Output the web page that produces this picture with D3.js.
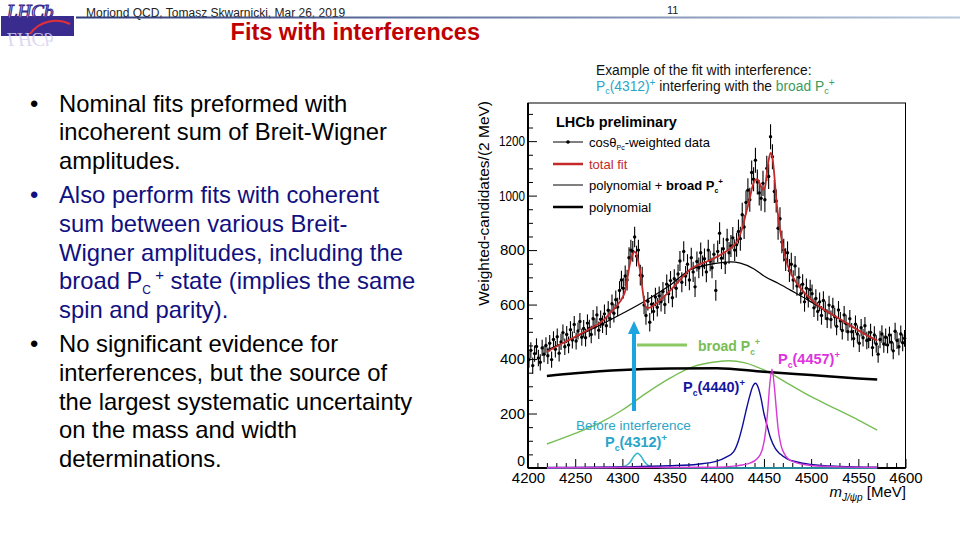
<!DOCTYPE html>
<html><head><meta charset="utf-8">
<script src="https://cdn.jsdelivr.net/npm/d3@7"></script>
<style>
html,body{margin:0;padding:0;background:#fff;}
svg{display:block;font-family:"Liberation Sans",Arial,Helvetica,sans-serif;}
</style></head><body>
<svg id="c" width="960" height="540"></svg>
<script>
// ---------------- data ----------------
const xTicks = [4200,4250,4300,4350,4400,4450,4500,4550,4600];
const yTicks = [0,200,400,600,800,1000,1200];
const dataMass = d3.range(4201, 4600, 2);
const dataCounts = [
 398,432,376,420,446,404,388,441,418,450,
 412,458,398,472,436,482,421,463,497,445,
 490,452,508,470,527,466,503,538,480,512,
 478,532,512,490,548,518,562,506,546,528,
 566,522,579,548,603,568,618,591,652,690,
 660,705,690,772,800,795,848,778,800,708,
 705,598,560,612,535,601,575,628,590,632,
 610,648,600,675,640,688,625,695,660,712,
 760,682,795,705,748,690,772,720,665,758,
 735,790,742,768,720,800,760,735,785,652,
 795,862,770,805,752,838,790,815,845,800,
 820,868,842,930,885,975,1020,985,1085,1060,
 1130,1050,1010,990,1045,985,1100,1070,1216,1143,
 1015,980,880,915,830,800,765,790,725,748,
 690,742,668,700,640,675,610,660,625,655,
 640,588,622,575,610,560,615,578,548,598,
 545,592,555,520,580,540,505,562,530,500,
 548,500,475,528,492,458,515,478,522,468,
 472,498,442,488,455,418,472,492,455,480,
 452,488,462,430,502,468,445,492,460,476
];
const dataErrByGroup = [30,30,31,32,34,38,34,35,37,38,40,44,46,42,36,34,33,32,32,31];

const fitMass   = [4220,4235,4250,4265,4280,4290,4296,4300,4303,4306,4309,4311,4313,4315,4317,4319,4321,4323,4326,4330,4336,4345,4355,4365,4372,4385,4395,4405,4415,4422,4427,4431,4435,4438,4441,4443,4446,4449,4451,4453,4455,4457,4459,4461,4463,4466,4470,4475,4480,4490,4500,4510,4525,4540,4555,4570];
const fitValues = [427,455,482,510,543,580,604,625,650,710,765,785,794,785,755,720,665,615,588,590,605,632,668,705,730,752,766,785,808,835,880,935,990,1035,1058,1060,1040,1022,1030,1080,1130,1157,1140,1075,990,900,815,745,705,655,618,590,558,527,495,468];

const polyBroadMass   = [4220,4250,4275,4300,4325,4350,4372,4390,4405,4415,4425,4440,4450,4465,4478,4495,4510,4530,4550,4570];
const polyBroadValues = [433,480,522,567,615,670,728,746,754,757,752,730,705,678,653,620,588,547,506,468];

const polyMass   = [4220,4250,4300,4350,4400,4450,4500,4550,4570];
const polyValues = [338,348,360,365,366,353,341,329,325];

const broadMass   = [4220,4250,4275,4300,4325,4350,4375,4400,4413,4430,4450,4475,4500,4525,4550,4570];
const broadValues = [88,127,164,213,274,329,372,390,394,386,360,311,262,219,176,139];

const pc4440Mass   = [4220,4300,4350,4380,4400,4410,4418,4423,4427,4431,4435,4438,4441,4444,4447,4450,4453,4457,4462,4467,4475,4485,4500,4530,4570];
const pc4440Values = [2,4,8,14,25,40,60,100,150,210,265,298,311,295,255,200,160,110,72,52,33,22,13,6,3];

const pc4457Mass   = [4220,4400,4420,4435,4443,4448,4452,4454,4456,4458.5,4461,4463,4465,4468,4472,4480,4500,4530,4570];
const pc4457Values = [1,3,8,18,35,65,140,210,300,363,300,220,145,85,50,24,9,4,2];

const pc4312Mass   = [4220,4290,4300,4305,4309,4312,4316,4320,4323,4327,4333,4350,4400,4570];
const pc4312Values = [0,2,5,11,25,42,54,42,25,11,4,1,0,0];

const bulletLines = [
 {b:true,  t:"Nominal fits preformed with", c:"#000"},
 {b:false, t:"incoherent sum of Breit-Wigner", c:"#000"},
 {b:false, t:"amplitudes.", c:"#000"},
 {b:true,  t:"Also perform fits with coherent", c:"#10107f"},
 {b:false, t:"sum between various Breit-", c:"#10107f"},
 {b:false, t:"Wigner amplitudes, including the", c:"#10107f"},
 {b:false, t:"PC", c:"#10107f"},
 {b:false, t:"spin and parity).", c:"#10107f"},
 {b:true,  t:"No significant evidence for", c:"#000"},
 {b:false, t:"interferences, but the source of", c:"#000"},
 {b:false, t:"the largest systematic uncertainty", c:"#000"},
 {b:false, t:"on the mass and width", c:"#000"},
 {b:false, t:"determinations.", c:"#000"}
];
const bulletBaselines = [111.7,140.4,169,203.3,232,260.7,289.3,318,352.3,381,409.7,438.3,467];

// ---------------- drawing ----------------
const svg = d3.select("#c");
const defs = svg.append("defs");
const lg = defs.append("linearGradient").attr("id","hdr").attr("x1","0").attr("x2","1");
lg.append("stop").attr("offset","0").attr("stop-color","#2b3b78");
lg.append("stop").attr("offset","1").attr("stop-color","#b8c8dc");

// logo
const logo = svg.append("g");
logo.append("rect").attr("x",1).attr("y",16).attr("width",73).attr("height",20).attr("fill","#3a2c8e");
logo.append("text").attr("x",7).attr("y",18).attr("font-family","Liberation Serif,serif").attr("font-style","italic")
  .attr("font-size",19).attr("fill","#fff").attr("stroke","#3a2c8e").attr("stroke-width",1.2).text("LHCb");
logo.append("text").attr("transform","translate(7,14) scale(1,-1)").attr("font-family","Liberation Serif,serif").attr("font-style","italic")
  .attr("font-size",19).attr("fill","#d8d0f0").attr("opacity",0.85).text("LHCb").attr("y",-19);
logo.append("path").attr("d","M30,34 C40,20 58,18 70,24").attr("fill","none").attr("stroke","#e0303a").attr("stroke-width",2);

// header
svg.append("text").attr("x",86).attr("y",16.5).attr("font-size",12).attr("fill","#222")
  .text("Moriond QCD, Tomasz Skwarnicki, Mar 26, 2019");
svg.append("rect").attr("x",76).attr("y",16.5).attr("width",884).attr("height",2).attr("fill","url(#hdr)");
svg.append("text").attr("x",667).attr("y",14).attr("font-size",11).attr("fill","#222").text("11");
svg.append("text").attr("x",480).attr("y",40).attr("text-anchor","end").attr("font-size",23.5)
  .attr("font-weight","bold").attr("fill","#c00000").text("Fits with interferences");

// bullets
const bFont = 23.8;
bulletLines.forEach((d,i)=>{
  const yb = bulletBaselines[i];
  if (d.b) svg.append("text").attr("x",30).attr("y",yb).attr("font-size",bFont).attr("fill",d.c).text("•");
  const t = svg.append("text").attr("x",59).attr("y",yb).attr("font-size",bFont).attr("fill",d.c);
  if (d.t === "PC") {
    t.append("tspan").text("broad P");
    t.append("tspan").attr("font-size",12).attr("dy",5).text("C");
    t.append("tspan").attr("font-size",15).attr("dy",-14).text(" +");
    t.append("tspan").attr("dy",9).text(" state (implies the same");
  } else t.text(d.t);
});

// caption above plot
svg.append("text").attr("x",596).attr("y",74.5).attr("font-size",13.8).attr("fill","#111").text("Example of the fit with interference:");
{
  const t = svg.append("text").attr("x",596).attr("y",91).attr("font-size",13.8);
  t.append("tspan").attr("fill","#2ba5c8").text("P");
  t.append("tspan").attr("fill","#2ba5c8").attr("font-size",9).attr("dy",3).text("c");
  t.append("tspan").attr("fill","#2ba5c8").attr("dy",-3).text("(4312)");
  t.append("tspan").attr("fill","#2ba5c8").attr("font-size",10).attr("dy",-5).text("+");
  t.append("tspan").attr("fill","#111").attr("dy",5).text(" interfering with the ");
  t.append("tspan").attr("fill","#3d9b5e").text("broad P");
  t.append("tspan").attr("fill","#3d9b5e").attr("font-size",9).attr("dy",3).text("c");
  t.append("tspan").attr("fill","#3d9b5e").attr("font-size",10).attr("dy",-8).text("+");
}

// plot
const x = d3.scaleLinear().domain([4200,4600]).range([528,905.5]);
const y = d3.scaleLinear().domain([0,1340]).range([468,103]);
const plot = svg.append("g");

// axes
const xMinor = d3.range(4200,4601,10).filter(v=>v%50!==0);
const xa = plot.append("g").attr("transform","translate(0,468)")
  .call(d3.axisBottom(x).tickValues(xTicks).tickSizeInner(-9).tickSizeOuter(0).tickPadding(4).tickFormat(d3.format("d")));
plot.append("g").attr("transform","translate(0,468)")
  .call(d3.axisBottom(x).tickValues(xMinor).tickSizeInner(-5).tickSizeOuter(0).tickFormat(""));
const yMinor = d3.range(0,1340,50).filter(v=>v%200!==0);
const ya = plot.append("g").attr("transform","translate(528,0)")
  .call(d3.axisLeft(y).tickValues(yTicks).tickSizeInner(-9).tickSizeOuter(0).tickPadding(3).tickFormat(d3.format("d")));
plot.append("g").attr("transform","translate(528,0)")
  .call(d3.axisLeft(y).tickValues(yMinor).tickSizeInner(-5).tickSizeOuter(0).tickFormat(""));
plot.selectAll(".domain").remove();
plot.selectAll(".tick line").attr("stroke","#000").attr("stroke-width",1);
xa.selectAll("text").attr("font-size",15).attr("fill","#000").attr("font-family","Liberation Sans,Arial,sans-serif");
ya.selectAll("text").attr("font-size",15).attr("fill","#000").attr("font-family","Liberation Sans,Arial,sans-serif")
  .each(function(){
    if (this.textContent.length===4) d3.select(this).attr("textLength",26).attr("lengthAdjust","spacingAndGlyphs");
    if (this.textContent==="0") d3.select(this).attr("dy","-0.15em").attr("font-size",14);
  });

// frame
plot.append("rect").attr("x",528).attr("y",103).attr("width",377.5).attr("height",365).attr("fill","none").attr("stroke","#000").attr("stroke-width",1);
plot.append("line").attr("x1",528).attr("x2",528).attr("y1",103).attr("y2",468).attr("stroke","#000").attr("stroke-width",2);
plot.append("line").attr("x1",528).attr("x2",905.5).attr("y1",468).attr("y2",468).attr("stroke","#000").attr("stroke-width",2);

// axis titles
svg.append("text").attr("transform","translate(489,101) rotate(-90)").attr("text-anchor","end")
  .attr("font-size",15.5).attr("fill","#000").text("Weighted-candidates/(2 MeV)");
{
  const t = svg.append("text").attr("x",906).attr("y",497).attr("text-anchor","end").attr("font-size",15).attr("fill","#000");
  t.append("tspan").attr("font-style","italic").text("m");
  t.append("tspan").attr("font-size",10).attr("font-style","italic").attr("dy",4).text("J/ψp");
  t.append("tspan").attr("dy",-4).text(" [MeV]");
}

const line = d3.line().x(d=>x(d[0])).y(d=>y(d[1])).curve(d3.curveMonotoneX);
function curve(m, v, color, w) {
  plot.append("path").datum(d3.zip(m, v)).attr("d", line).attr("fill","none").attr("stroke",color).attr("stroke-width",w);
}
curve(broadMass, broadValues, "#77bd55", 1.4);
curve(polyMass, polyValues, "#000", 2.5);
curve(pc4312Mass, pc4312Values, "#33b5cc", 1.5);
curve(pc4440Mass, pc4440Values, "#0d0d9a", 1.4);
curve(pc4457Mass, pc4457Values, "#d63ad6", 1.4);

// data
const pts = plot.append("g");
dataMass.forEach((m,i)=>{
  const v = dataCounts[i], e = dataErrByGroup[Math.floor(i/10)];
  pts.append("line").attr("x1",x(m)).attr("x2",x(m)).attr("y1",y(v-e)).attr("y2",y(v+e)).attr("stroke","#000").attr("stroke-width",1.1);
  pts.append("circle").attr("cx",x(m)).attr("cy",y(v)).attr("r",1.7).attr("fill","#000");
});
curve(polyBroadMass, polyBroadValues, "#000", 1.2);
curve(fitMass, fitValues, "#c42a2a", 1.8);

// legend
const lgd = svg.append("g");
lgd.append("text").attr("x",556).attr("y",126.5).attr("font-size",14.5).attr("font-weight","bold").text("LHCb preliminary");
const rows = [142,164,185,207];
lgd.append("line").attr("x1",553).attr("x2",583).attr("y1",rows[0]).attr("y2",rows[0]).attr("stroke","#000").attr("stroke-width",1);
lgd.append("circle").attr("cx",568).attr("cy",rows[0]).attr("r",1.8).attr("fill","#000");
lgd.append("line").attr("x1",553).attr("x2",583).attr("y1",rows[1]).attr("y2",rows[1]).attr("stroke","#c42a2a").attr("stroke-width",2.5);
lgd.append("line").attr("x1",553).attr("x2",583).attr("y1",rows[2]).attr("y2",rows[2]).attr("stroke","#000").attr("stroke-width",1);
lgd.append("line").attr("x1",553).attr("x2",583).attr("y1",rows[3]).attr("y2",rows[3]).attr("stroke","#000").attr("stroke-width",2.5);
{
  const t = lgd.append("text").attr("x",589).attr("y",rows[0]+4.5).attr("font-size",13);
  t.append("tspan").text("cosθ");
  t.append("tspan").attr("font-size",7).attr("dy",3).text("Pc");
  t.append("tspan").attr("dy",-3).text("-weighted data");
  lgd.append("text").attr("x",589).attr("y",rows[1]+4.5).attr("font-size",13).attr("fill","#c42a2a").text("total fit");
  const t3 = lgd.append("text").attr("x",589).attr("y",rows[2]+4.5).attr("font-size",13);
  t3.append("tspan").text("polynomial + ");
  t3.append("tspan").attr("font-weight","bold").text("broad P");
  t3.append("tspan").attr("font-weight","bold").attr("font-size",7).attr("dy",3).text("c");
  t3.append("tspan").attr("font-weight","bold").attr("font-size",8).attr("dy",-9).text("+");
  lgd.append("text").attr("x",589).attr("y",rows[3]+4.5).attr("font-size",13).text("polynomial");
}

// annotations
const ann = svg.append("g");
ann.append("line").attr("x1",634).attr("x2",634).attr("y1",411).attr("y2",333).attr("stroke","#1ba4e0").attr("stroke-width",4);
ann.append("polygon").attr("points","628,334 640,334 634,321").attr("fill","#1ba4e0");
ann.append("line").attr("x1",637).attr("x2",687).attr("y1",345).attr("y2",345).attr("stroke","#8cc864").attr("stroke-width",3);
function pcLabel(x0, y0, pre, txt, color, size) {
  const t = ann.append("text").attr("x",x0).attr("y",y0).attr("fill",color).attr("font-weight","bold").attr("font-size",size);
  t.append("tspan").text(pre + "P");
  t.append("tspan").attr("font-size",size*0.6).attr("dy",size*0.25).text("c");
  if (txt) t.append("tspan").attr("dy",-size*0.25).text(txt);
  t.append("tspan").attr("font-size",size*0.65).attr("dy",txt ? -size*0.4 : -size*0.65).text("+");
}
pcLabel(698, 351, "broad ", "", "#77bd55", 14);
pcLabel(778, 364, "", "(4457)", "#dd33dd", 14.5);
pcLabel(683, 392, "", "(4440)", "#1515a0", 14.5);
ann.append("text").attr("x",576).attr("y",430).attr("font-size",13.5).attr("fill","#2ba5c8").text("Before interference");
pcLabel(605, 447, "", "(4312)", "#2ba5c8", 14.5);
</script>
</body></html>
